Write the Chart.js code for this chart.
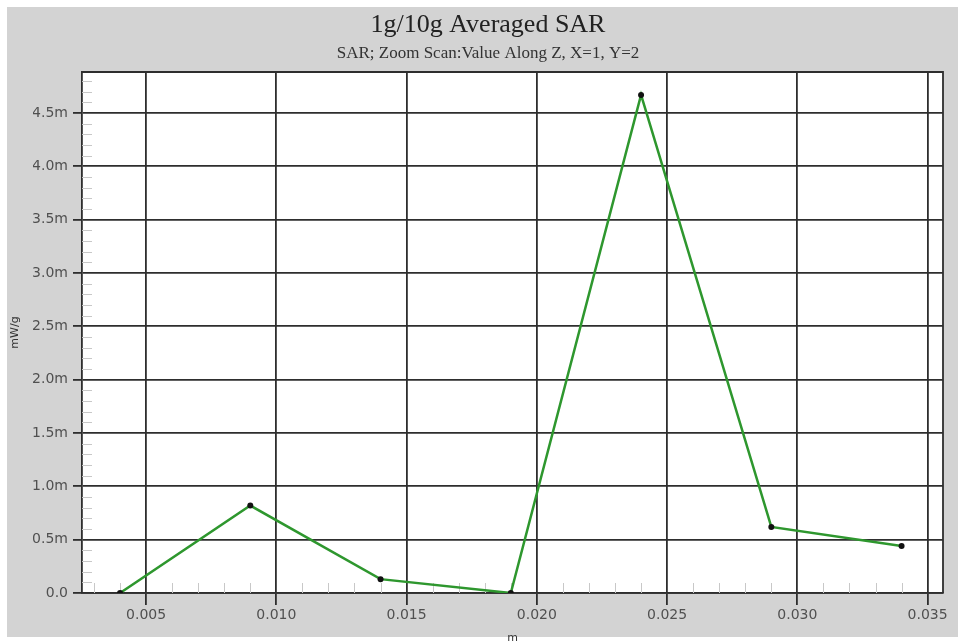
<!DOCTYPE html>
<html>
<head>
<meta charset="utf-8">
<script src="https://cdn.jsdelivr.net/npm/chart.js@4/dist/chart.umd.min.js"></script>
<style>
  html, body { margin: 0; padding: 0; background: #ffffff; }
  #wrap { width: 958px; height: 643px; }
</style>
</head>
<body>
<div id="wrap"><canvas id="c" width="958" height="643"></canvas></div>
<script>
// ---- data ----
const zPositions = [0.004, 0.009, 0.014, 0.019, 0.024, 0.029, 0.034];   // m
const sarValues  = [0.0, 0.82, 0.13, 0.0, 4.67, 0.62, 0.44];             // milli mW/g
const xTickLabels = ['0.005', '0.010', '0.015', '0.020', '0.025', '0.030', '0.035'];
const yTickLabels = ['0.0', '0.5m', '1.0m', '1.5m', '2.0m', '2.5m', '3.0m', '3.5m', '4.0m', '4.5m'];
const titleText = '1g/10g Averaged SAR';
const subtitleText = 'SAR; Zoom Scan:Value Along Z, X=1, Y=2';
const xAxisTitle = 'm';
const yAxisTitle = 'mW/g';

const points = zPositions.map((x, i) => ({ x: x, y: sarValues[i] }));

const frame = {
  id: 'frame',
  beforeDraw(chart) {
    const { ctx, chartArea: a } = chart;
    ctx.save();
    ctx.fillStyle = '#ffffff';
    ctx.fillRect(0, 0, chart.width, chart.height);
    ctx.fillStyle = '#d3d3d3';
    ctx.fillRect(7, 7, chart.width - 7, chart.height - 13);
    ctx.fillStyle = '#ffffff';
    ctx.fillRect(a.left, a.top, a.right - a.left, a.bottom - a.top);
    ctx.restore();
  },
  beforeDatasetsDraw(chart) {
    const { ctx, chartArea: a, scales } = chart;
    const xs = scales.x, ys = scales.y;
    ctx.save();
    // minor ticks
    ctx.strokeStyle = '#c8c8c8';
    ctx.lineWidth = 1;
    ctx.beginPath();
    for (let k = 3; k <= 35; k++) {
      if (k % 5 === 0) continue;
      const px = Math.round(xs.getPixelForValue(k / 1000)) + 0.5;
      ctx.moveTo(px, a.bottom);
      ctx.lineTo(px, a.bottom - 10);
    }
    for (let k = 1; k <= 48; k++) {
      if (k % 5 === 0) continue;
      const py = Math.round(ys.getPixelForValue(k / 10)) + 0.5;
      ctx.moveTo(a.left, py);
      ctx.lineTo(a.left + 10, py);
    }
    ctx.stroke();
    // top and right frame
    ctx.strokeStyle = '#2e2e2e';
    ctx.lineWidth = 1.8;
    ctx.beginPath();
    ctx.moveTo(a.left, a.top);
    ctx.lineTo(a.right, a.top);
    ctx.lineTo(a.right, a.bottom);
    ctx.stroke();
    ctx.restore();
  }
};

new Chart(document.getElementById('c'), {
  type: 'line',
  data: {
    datasets: [{
      data: points,
      borderColor: '#2e972e',
      borderWidth: 2.5,
      pointRadius: 3,
      pointBackgroundColor: '#111111',
      pointBorderWidth: 0,
      pointHoverRadius: 3,
      tension: 0,
      fill: false
    }]
  },
  options: {
    responsive: false,
    animation: false,
    devicePixelRatio: 1,
    layout: { padding: { left: 33, right: 15, top: 0, bottom: 0 }, autoPadding: false },
    plugins: {
      legend: { display: false },
      tooltip: { enabled: false },
      title: {
        display: true,
        text: titleText,
        color: '#222222',
        font: { family: 'Liberation Serif', size: 26, weight: 'normal', lineHeight: 1.2 },
        padding: { top: 9.4, bottom: 3.2 }
      },
      subtitle: {
        display: true,
        text: subtitleText,
        color: '#333333',
        font: { family: 'Liberation Serif', size: 17, weight: 'normal', lineHeight: 1.2 },
        padding: { top: 0, bottom: 7.8 }
      }
    },
    scales: {
      x: {
        type: 'linear',
        min: 0.00254,
        max: 0.03559,
        afterFit(s) { s.height = 50; },
        ticks: {
          stepSize: 0.005,
          includeBounds: false,
          autoSkip: false,
          maxRotation: 0,
          padding: 2,
          color: '#505050',
          font: { family: 'DejaVu Sans', size: 14 },
          callback: (v, i) => xTickLabels[i]
        },
        grid: { color: '#2e2e2e', lineWidth: 1.8, tickLength: 12, tickColor: '#2e2e2e' },
        border: { display: true, color: '#2e2e2e', width: 1.8 },
        title: {
          display: true, text: xAxisTitle, color: '#333333',
          font: { family: 'DejaVu Sans', size: 11 },
          padding: { top: 0, bottom: -2 }
        }
      },
      y: {
        type: 'linear',
        min: 0,
        max: 4.885,
        afterFit(s) { s.width = 49; },
        ticks: {
          stepSize: 0.5,
          includeBounds: false,
          autoSkip: false,
          padding: 5,
          color: '#505050',
          font: { family: 'DejaVu Sans', size: 14 },
          callback: (v, i) => yTickLabels[i]
        },
        grid: { color: '#2e2e2e', lineWidth: 1.8, tickLength: 9, tickColor: '#2e2e2e' },
        border: { display: true, color: '#2e2e2e', width: 1.8 },
        title: {
          display: true, text: yAxisTitle, color: '#333333',
          font: { family: 'DejaVu Sans', size: 11 },
          padding: { top: -24.6, bottom: 0 }
        }
      }
    }
  },
  plugins: [frame]
});
</script>
</body>
</html>
